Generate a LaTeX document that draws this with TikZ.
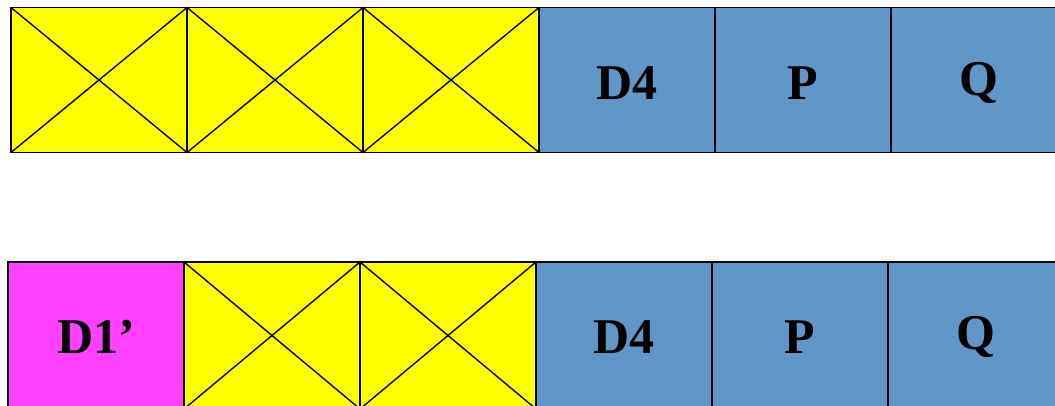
\documentclass[tikz,border=0pt]{standalone}
\usepackage{fontspec}
\setmainfont{Liberation Serif}
\definecolor{cellblue}{HTML}{6096C8}
\definecolor{cellyellow}{HTML}{FFFF00}
\definecolor{cellmagenta}{HTML}{FF40FF}
\newcommand{\lowered}[2]{\raisebox{-#1}[\height][\depth]{#2}}
\begin{document}
\begin{tikzpicture}[x=1pt,y=-1pt,
  cell/.style={draw=black, line width=1.8pt, minimum width=176pt, minimum height=145pt, inner sep=0pt, outer sep=0pt, anchor=north west, font=\fontsize{50}{50}\selectfont\bfseries},
  blue/.style={cell, fill=cellblue},
  yel/.style={cell, fill=cellyellow},
  mag/.style={cell, fill=cellmagenta},
  crossline/.style={line width=1.4pt}]
\useasboundingbox (0,0) rectangle (1055,405);
\clip (0,0) rectangle (1055,405);
% top row
\node[yel] (t1) at (11,7.5) {};
\node[yel] (t2) at (187,7.5) {};
\node[yel] (t3) at (363,7.5) {};
\node[blue] (t4) at (539,7.5) {\lowered{3pt}{D4}};
\node[blue] (t5) at (715,7.5) {\lowered{3pt}{P}};
\node[blue] (t6) at (891,7.5) {\lowered{3pt}{Q}};
\foreach \n in {t1,t2,t3}{
  \draw[crossline] (\n.north west) -- (\n.south east);
  \draw[crossline] (\n.south west) -- (\n.north east);
}
% bottom row
\node[mag,minimum height=147pt] (b1) at (8,262) {\lowered{1.5pt}{D1’}};
\node[yel,minimum height=147pt] (b2) at (184,262) {};
\node[yel,minimum height=147pt] (b3) at (360,262) {};
\node[blue,minimum height=147pt] (b4) at (536,262) {\lowered{1.5pt}{D4}};
\node[blue,minimum height=147pt] (b5) at (712,262) {\lowered{1.5pt}{P}};
\node[blue,minimum height=147pt] (b6) at (888,262) {\lowered{1.5pt}{Q}};
\foreach \n in {b2,b3}{
  \draw[crossline] (\n.north west) -- (\n.south east);
  \draw[crossline] (\n.south west) -- (\n.north east);
}
\end{tikzpicture}
\end{document}
